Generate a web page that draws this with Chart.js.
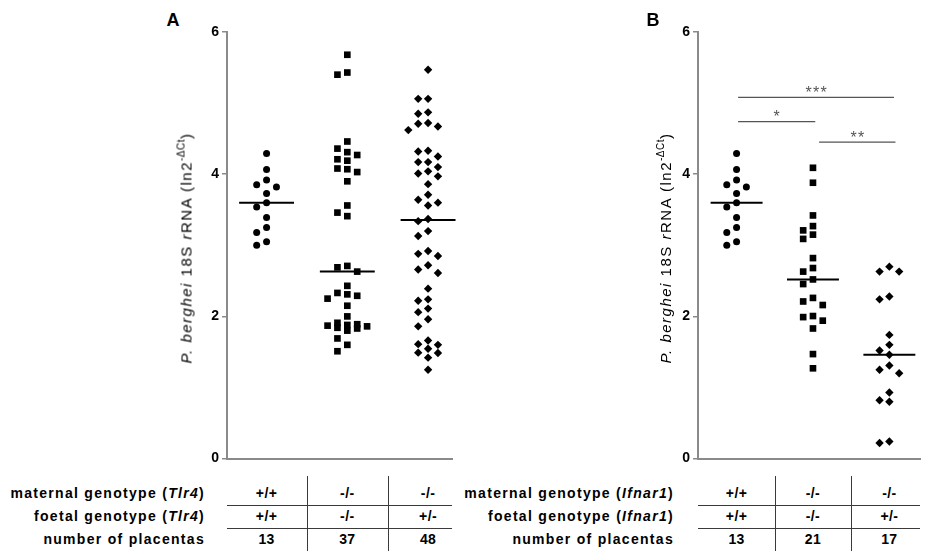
<!DOCTYPE html>
<html>
<head>
<meta charset="utf-8">
<script src="https://cdn.jsdelivr.net/npm/chart.js@4.4.1/dist/chart.umd.min.js"></script>
<style>
  html, body { margin: 0; padding: 0; background: #fff; }
  #page { position: relative; width: 925px; height: 551px; overflow: hidden;
          font-family: 'Liberation Sans', Arial, sans-serif; color: #000; }
  #page canvas { position: absolute; top: 0; }
  .letter { position: absolute; font-weight: bold; font-size: 18px; transform: translate(-50%, -50%); }
  .ytitle { position: absolute; font-size: 15px; letter-spacing: 1.5px; white-space: nowrap;
            transform: translate(-50%, -50%) rotate(-90deg); }
  .ytitle sup { font-size: 10px; letter-spacing: 0.5px; vertical-align: 7px; }
  .rowlab { position: absolute; font-weight: bold; font-size: 14px; letter-spacing: 1.3px;
            white-space: nowrap; transform: translate(-100%, -50%); }
  .cell { position: absolute; font-weight: bold; font-size: 14px; letter-spacing: 0.4px;
          white-space: nowrap; transform: translate(-50%, -50%); }
  .hl { position: absolute; height: 0; border-top: 1px solid #3a3a3a; }
  .vl { position: absolute; width: 0; border-left: 1px solid #3a3a3a; }
</style>
</head>
<body>
<div id="page">
  <canvas id="chartA" width="270" height="470" style="left:187px"></canvas>
  <canvas id="chartB" width="267" height="470" style="left:658px"></canvas>
</div>

<script>
/* ── data ──────────────────────────────────────────────────── */
const controlValues = [4.29, 4.065, 3.92, 3.85, 3.82, 3.73, 3.60, 3.54, 3.39, 3.25, 3.18, 3.05, 3.00];

const tlr4KoValues = [5.68, 5.43, 5.40, 4.46, 4.36, 4.31, 4.27, 4.21, 4.19, 4.08, 4.07, 4.03, 3.90,
  3.56, 3.46, 3.41, 2.71, 2.69, 2.63, 2.43, 2.33, 2.31, 2.29, 2.25, 2.15, 2.00, 1.91, 1.89,
  1.88, 1.87, 1.86, 1.84, 1.83, 1.80, 1.69, 1.60, 1.51];

const tlr4HetValues = [5.47, 5.06, 5.06, 4.87, 4.85, 4.72, 4.71, 4.67, 4.62, 4.33, 4.32, 4.25,
  4.17, 4.17, 4.10, 4.04, 4.01, 3.97, 3.86, 3.71, 3.64, 3.60, 3.56, 3.37, 3.34, 3.20, 3.13,
  2.92, 2.88, 2.85, 2.72, 2.66, 2.61, 2.39, 2.24, 2.22, 2.11, 2.06, 1.96, 1.86, 1.66, 1.61,
  1.60, 1.545, 1.49, 1.485, 1.42, 1.25];

const ifnarKoValues = [4.09, 3.88, 3.42, 3.27, 3.21, 3.15, 3.09, 2.82, 2.68, 2.63, 2.52, 2.455,
  2.26, 2.21, 2.16, 2.005, 1.99, 1.94, 1.83, 1.47, 1.27];

const ifnarHetValues = [2.70, 2.63, 2.63, 2.28, 2.24, 1.74, 1.60, 1.52, 1.46, 1.31, 1.25, 1.20,
  0.93, 0.82, 0.80, 0.24, 0.22];

const yTicks = [0, 2, 4, 6];

const maternalTlr4 = ['+/+', '-/-', '-/-'];
const foetalTlr4   = ['+/+', '-/-', '+/-'];
const maternalIfnar = ['+/+', '-/-', '-/-'];
const foetalIfnar   = ['+/+', '-/-', '+/-'];

// significance bars of panel B
const sigText  = ['*', '**', '***'];
const sigFrom  = [1.02, 2.08, 1.02];
const sigTo    = [2.03, 3.08, 3.06];
const sigLevel = [4.74, 4.45, 5.08];

/* ── style ─────────────────────────────────────────────────── */
const FONT = "'Liberation Sans', Arial, sans-serif";
const AXIS_GRAY = '#8a8a8a';
const Y_AXIS_W = 40;
const PX_PER_Y = 434 / 6;           // plot height / y range
const STYLES = [
  { pointStyle: 'circle',  radius: 3.5 },
  { pointStyle: 'rect',    radius: 4.7 },
  { pointStyle: 'rectRot', radius: 4.2 },
];
const SLOTS = [0, -1, 1, -2, 2];     // at most five dots side by side

function median(arr) {
  const s = [...arr].sort((a, b) => a - b);
  const m = s.length >> 1;
  return s.length % 2 ? s[m] : (s[m - 1] + s[m]) / 2;
}

// column swarm: highest value first; first free slot, else the least crowded one
function swarm(values, center, stepX, minGapY) {
  const order = values.map((_, i) => i).sort((a, b) => values[b] - values[a]);
  const placed = [];
  const out = [];
  order.forEach(i => {
    const v = values[i];
    let best = SLOTS[0], bestGap = -1;
    for (const slot of SLOTS) {
      const near = placed.filter(p => p.slot === slot).map(p => Math.abs(p.y - v));
      const gap = near.length ? Math.min(...near) : Infinity;
      if (gap >= minGapY) { best = slot; break; }
      if (gap > bestGap) { bestGap = gap; best = slot; }
    }
    placed.push({ slot: best, y: v });
    out.push({ x: center + best * stepX, y: v });
  });
  return out;
}

/* ── significance stars ────────────────────────────────────── */
const sigStars = {
  id: 'sigStars',
  afterDatasetsDraw(chart, args, opts) {
    if (!opts.labels) return;
    const { ctx, scales: { x, y } } = chart;
    ctx.save();
    ctx.fillStyle = '#555';
    ctx.font = `16px ${FONT}`;
    ctx.textAlign = 'center';
    ctx.textBaseline = 'alphabetic';
    opts.labels.forEach((t, i) => {
      const cx = x.getPixelForValue((opts.from[i] + opts.to[i]) / 2);
      const cy = y.getPixelForValue(opts.level[i]) + 0.5;
      for (let j = 0; j < t.length; j++) {
        ctx.fillText('*', cx + (j - (t.length - 1) / 2) * 7.5, cy);
      }
    });
    ctx.restore();
  },
};

/* ── panel ─────────────────────────────────────────────────── */
function makePanel(canvasId, groups, xMin, xMax, rightPad, sig) {
  const canvas = document.getElementById(canvasId);
  const plotW = canvas.width - Y_AXIS_W - rightPad;
  const stepX = 10 / (plotW / (xMax - xMin));
  const minGapY = 8 / PX_PER_Y;

  const datasets = [];
  groups.forEach((vals, i) => {
    datasets.push({
      type: 'scatter',
      data: swarm(vals, i + 1, stepX, minGapY),
      pointStyle: STYLES[i].pointStyle,
      pointRadius: STYLES[i].radius,
      pointBackgroundColor: '#000',
      pointBorderWidth: 0,
      clip: false,
    });
  });
  groups.forEach((vals, i) => {
    const m = median(vals);
    datasets.push({
      type: 'line',
      data: [{ x: i + 1 - 0.34, y: m }, { x: i + 1 + 0.34, y: m }],
      borderColor: '#000', borderWidth: 2, pointRadius: 0, clip: false,
    });
  });
  if (sig) {
    sigText.forEach((_, i) => {
      datasets.push({
        type: 'line',
        data: [{ x: sigFrom[i], y: sigLevel[i] }, { x: sigTo[i], y: sigLevel[i] }],
        borderColor: '#555', borderWidth: 1.3, pointRadius: 0, clip: false,
      });
    });
  }

  return new Chart(canvas.getContext('2d'), {
    type: 'scatter',
    data: { datasets },
    plugins: [sigStars],
    options: {
      responsive: false,
      animation: false,
      events: [],
      layout: { padding: { top: 32, right: rightPad, bottom: 3, left: 0 } },
      plugins: {
        legend: { display: false },
        tooltip: { enabled: false },
        sigStars: sig ? { labels: sigText, from: sigFrom, to: sigTo, level: sigLevel } : {},
      },
      scales: {
        x: {
          type: 'linear', min: xMin, max: xMax,
          ticks: { display: false },
          grid: { display: false, drawTicks: false },
          border: { display: true, color: AXIS_GRAY, width: 2 },
          afterFit: s => { s.height = 0; },
        },
        y: {
          min: 0, max: 6,
          afterBuildTicks: s => { s.ticks = yTicks.map(v => ({ value: v })); },
          ticks: { color: '#000', padding: 3, font: { family: FONT, size: 14, weight: 'bold' } },
          grid: { drawOnChartArea: false, tickLength: 5, color: AXIS_GRAY, lineWidth: 1.5 },
          border: { display: true, color: AXIS_GRAY, width: 2 },
          afterFit: s => { s.width = Y_AXIS_W; },
        },
      },
    },
  });
}

/* ── html text: panel letter, y title, genotype table ──────── */
const page = document.getElementById('page');
function add(cls, html, css) {
  const d = document.createElement('div');
  d.className = cls;
  d.innerHTML = html;
  Object.assign(d.style, css);
  page.appendChild(d);
  return d;
}

function decorate(chart, canvasLeft, opts) {
  const { x } = chart.scales;
  const px = v => canvasLeft + x.getPixelForValue(v);
  const area = chart.chartArea;

  add('letter', opts.letter, { left: opts.letterX + 'px', top: '20px' });
  add('ytitle', '<i>P. berghei</i> 18S <i>r</i>RNA (ln2<sup>-ΔCt</sup>)',
      { left: opts.titleX + 'px', top: '248px' });

  const rowsY = [493, 516, 539];
  const rows = [
    { label: `maternal genotype (<i>${opts.gene}</i>)`, cells: opts.maternal },
    { label: `foetal genotype (<i>${opts.gene}</i>)`,   cells: opts.foetal },
    { label: 'number of placentas',                    cells: opts.groups.map(g => String(g.length)) },
  ];
  rows.forEach((r, i) => {
    add('rowlab', r.label, { left: opts.labelRight + 'px', top: rowsY[i] + 'px' });
    r.cells.forEach((c, j) => add('cell', c, { left: px(j + 1) + 'px', top: rowsY[i] + 'px' }));
  });
  [505, 528].forEach(yy => add('hl', '', {
    left: (canvasLeft + area.left) + 'px', top: yy + 'px',
    width: (area.right - area.left) + 'px',
  }));
  [1.5, 2.5].forEach(v => add('vl', '', { left: px(v) + 'px', top: '476px', height: '80px' }));
}

const groupsA = [controlValues, tlr4KoValues, tlr4HetValues];
const groupsB = [controlValues, ifnarKoValues, ifnarHetValues];

const chartA = makePanel('chartA', groupsA, 0.51, 3.3, 2, false);
const chartB = makePanel('chartB', groupsB, 0.495, 3.405, 0, true);

decorate(chartA, 187, { letter: 'A', letterX: 173, titleX: 185, labelRight: 205, gene: 'Tlr4',
  maternal: maternalTlr4, foetal: foetalTlr4, groups: groupsA });
decorate(chartB, 658, { letter: 'B', letterX: 653, titleX: 664, labelRight: 674, gene: 'Ifnar1',
  maternal: maternalIfnar, foetal: foetalIfnar, groups: groupsB });
</script>
</body>
</html>
